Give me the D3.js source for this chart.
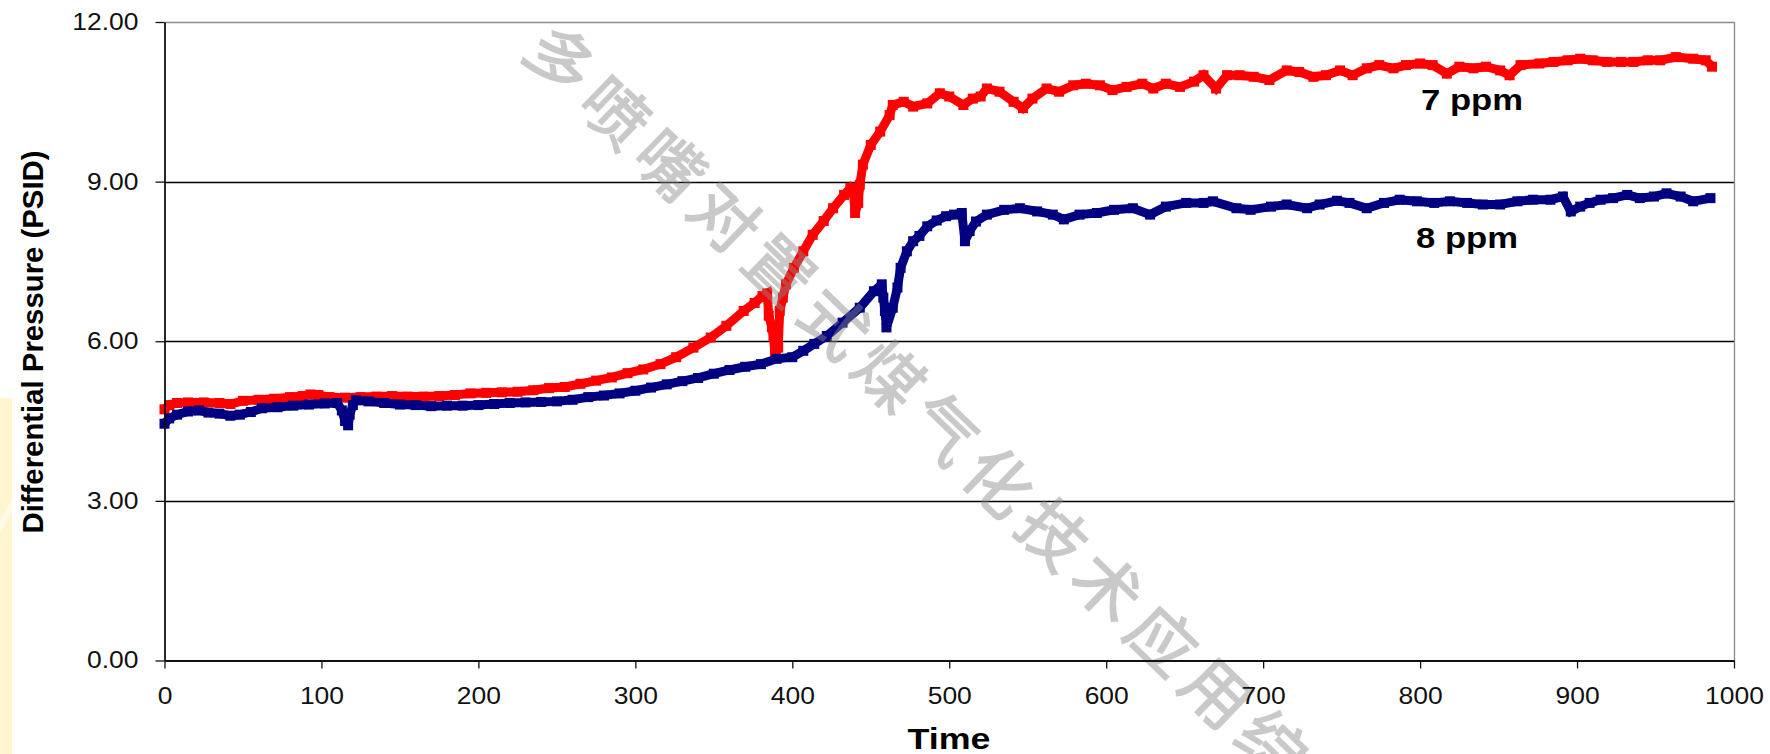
<!DOCTYPE html>
<html><head><meta charset="utf-8">
<script src="https://cdn.jsdelivr.net/npm/d3@7"></script>
<style>html,body{margin:0;padding:0;background:#fff;overflow:hidden}</style>
</head><body><svg id="c" width="1770" height="754"></svg>
<script>
// ---------- data ----------
const xTickValues = [0,100,200,300,400,500,600,700,800,900,1000];
const yTickValues = [0,3,6,9,12];
const seriesLabels = ["7 ppm","8 ppm"];
const xTitle = "Time";
const yTitle = "Differential Pressure (PSID)";
const watermarkText = "多喷嘴对置式煤气化技术应用综";

// 7 ppm series: [time, differential pressure]
const series7ppm = [
[0,4.72],[3,4.80],[8,4.84],[15,4.85],[25,4.85],[35,4.84],[42,4.82],[50,4.88],[60,4.90],[70,4.92],
[80,4.95],[88,4.97],[93,5.00],[98,4.99],[105,4.95],[115,4.94],[125,4.95],[135,4.96],[145,4.97],[155,4.96],
[165,4.96],[175,4.97],[185,4.99],[195,5.02],[205,5.03],[215,5.04],[225,5.05],[235,5.08],[245,5.12],[255,5.14],
[265,5.20],[275,5.26],[285,5.32],[295,5.40],[305,5.47],[316,5.57],[326,5.70],[337,5.88],[348,6.07],[358,6.29],
[369,6.57],[376,6.72],[381,6.85],[384,6.90],[385,6.48],[387,6.26],[388,6.10],[389,5.73],[391,5.88],[392,6.57],
[394,6.82],[396,7.07],[401,7.38],[407,7.69],[413,8.00],[420,8.26],[426,8.50],[433,8.75],[437,8.88],[439,8.80],
[440,8.41],[442,8.60],[443,8.94],[445,9.32],[450,9.69],[456,9.94],[462,10.25],[464,10.44],[471,10.50],[477,10.41],
[486,10.47],[494,10.66],[500,10.60],[509,10.44],[515,10.56],[520,10.60],[524,10.75],[532,10.69],[541,10.50],[547,10.38],
[553,10.56],[562,10.75],[570,10.69],[579,10.81],[587,10.84],[596,10.81],[604,10.72],[613,10.78],[623,10.84],[630,10.75],
[638,10.84],[647,10.78],[656,10.88],[662,11.00],[670,10.75],[677,11.00],[685,11.00],[694,10.97],[704,10.91],[715,11.09],
[723,11.06],[732,10.97],[740,11.00],[749,11.09],[757,11.00],[766,11.13],[774,11.19],[783,11.13],[791,11.19],[800,11.22],
[808,11.19],[817,11.03],[825,11.16],[834,11.13],[842,11.16],[851,11.09],[857,11.00],[864,11.19],[876,11.22],[885,11.25],
[894,11.28],[902,11.31],[910,11.28],[919,11.25],[928,11.25],[936,11.25],[945,11.28],[953,11.28],[963,11.34],[974,11.31],
[982,11.28],[986,11.16]
];

// 8 ppm series: [time, differential pressure]
const series8ppm = [
[0,4.45],[3,4.55],[8,4.62],[15,4.68],[22,4.70],[28,4.66],[35,4.64],[42,4.60],[48,4.62],[55,4.67],
[62,4.74],[72,4.76],[82,4.79],[92,4.81],[102,4.83],[110,4.84],[113,4.70],[115,4.50],[117,4.42],[118,4.62],
[120,4.80],[122,4.89],[130,4.87],[140,4.84],[150,4.81],[160,4.80],[170,4.78],[180,4.79],[190,4.79],[200,4.80],
[210,4.82],[220,4.84],[230,4.85],[240,4.86],[250,4.87],[260,4.90],[270,4.95],[280,4.98],[290,5.02],[300,5.07],
[310,5.13],[320,5.19],[330,5.25],[340,5.31],[350,5.39],[360,5.46],[370,5.52],[380,5.57],[390,5.67],[400,5.70],
[407,5.82],[414,5.95],[422,6.10],[432,6.35],[443,6.63],[452,6.94],[457,7.07],[458,6.82],[459,6.57],[460,6.26],
[464,6.63],[467,7.01],[469,7.38],[473,7.69],[477,7.88],[481,7.98],[486,8.16],[492,8.27],[498,8.35],[503,8.38],
[508,8.41],[510,7.88],[513,8.07],[517,8.25],[524,8.38],[535,8.47],[545,8.50],[556,8.44],[566,8.38],[573,8.29],
[583,8.38],[594,8.41],[605,8.47],[617,8.50],[628,8.38],[638,8.53],[651,8.60],[662,8.60],[668,8.63],[683,8.50],
[692,8.47],[705,8.53],[715,8.57],[728,8.50],[736,8.57],[747,8.64],[755,8.60],[766,8.50],[777,8.60],[787,8.66],
[798,8.63],[809,8.60],[819,8.63],[830,8.60],[840,8.57],[851,8.57],[862,8.63],[872,8.66],[883,8.66],[891,8.72],
[896,8.44],[902,8.53],[908,8.60],[915,8.66],[923,8.69],[932,8.75],[940,8.69],[949,8.72],[957,8.78],[966,8.72],
[974,8.63],[985,8.69]
];

// ---------- drawing ----------
const svg = d3.select("#c");
const x = d3.scaleLinear().domain([0,1000]).range([164.5,1734]);
const y = d3.scaleLinear().domain([0,12]).range([660.5,22]);
const FONT = "'Liberation Sans', Arial, sans-serif";

// slide background hint at far left
svg.append("rect").attr("x",0).attr("y",398).attr("width",12).attr("height",356).attr("fill","#fff5cf");
svg.append("polygon").attr("points","0,520 12,500 12,512 0,532").attr("fill","#fffbe8");

// grid lines
svg.append("g").selectAll("line").data(yTickValues.filter(d=>d>0 && d<12)).join("line")
  .attr("x1",x(0)).attr("x2",x(1000)).attr("y1",d=>Math.round(y(d))+0.5).attr("y2",d=>Math.round(y(d))+0.5)
  .attr("stroke","#000").attr("stroke-width",1.3);
// top & right frame
svg.append("line").attr("x1",x(0)).attr("x2",x(1000)).attr("y1",Math.round(y(12))+0.5).attr("y2",Math.round(y(12))+0.5)
  .attr("stroke","#8a8a8a").attr("stroke-width",1.3);
svg.append("line").attr("x1",Math.round(x(1000))+0.5).attr("x2",Math.round(x(1000))+0.5).attr("y1",y(12)).attr("y2",y(0))
  .attr("stroke","#8a8a8a").attr("stroke-width",1.3);

// series
const line = d3.line().x(d=>x(d[0])).y(d=>y(d[1]));
function drawSeries(data, color){
  const g = svg.append("g");
  g.append("path").datum(data).attr("d",line).attr("fill","none")
    .attr("stroke",color).attr("stroke-width",9).attr("stroke-linejoin","miter").attr("stroke-miterlimit",2);
  const s = 10;
  g.selectAll("rect").data(data).join("rect")
    .attr("x",d=>x(d[0])-s/2).attr("y",d=>y(d[1])-s/2).attr("width",s).attr("height",s).attr("fill",color);
}
drawSeries(series7ppm,"#ff0000");
drawSeries(series8ppm,"#000080");

// watermark
const wm = svg.append("g").attr("transform","translate(564,56) rotate(44)").attr("opacity",0.45);
wm.selectAll("text").data(Array.from(watermarkText)).join("text")
  .attr("x",(d,i)=>i*76).attr("y",0)
  .attr("text-anchor","middle").attr("dominant-baseline","central")
  .attr("font-family","'Noto Sans CJK SC', sans-serif").attr("font-size",66)
  .attr("fill","#8a8a8a").attr("stroke","#8a8a8a").attr("stroke-width",1.6).text(d=>d);

// stretch helper (reference image is horizontally stretched)
function stretch(sel, f){
  sel.each(function(){ const w=this.getComputedTextLength(); d3.select(this).attr("textLength",w*f).attr("lengthAdjust","spacingAndGlyphs"); });
}

// axes
const yAxis = svg.append("g").attr("transform",`translate(${x(0)},0)`)
  .call(d3.axisLeft(y).tickValues(yTickValues).tickSize(9).tickSizeOuter(0).tickPadding(17).tickFormat(d3.format(".2f")));
const xAxis = svg.append("g").attr("transform",`translate(0,${y(0)})`)
  .call(d3.axisBottom(x).tickValues(xTickValues).tickSize(8).tickSizeOuter(0).tickPadding(19).tickFormat(d3.format("d")));
[yAxis,xAxis].forEach(a=>{
  a.select(".domain").attr("stroke","#111").attr("stroke-width",1.8);
  a.selectAll(".tick line").attr("stroke","#111").attr("stroke-width",1.3);
  a.selectAll(".tick text").attr("font-family",FONT).attr("font-size",23).attr("fill","#111");
});
stretch(yAxis.selectAll(".tick text"),1.15);
stretch(xAxis.selectAll(".tick text"),1.15);

// titles
svg.append("text").attr("x",949).attr("y",749).attr("text-anchor","middle")
  .attr("font-family",FONT).attr("font-weight","bold").attr("font-size",29)
  .attr("textLength",83).attr("lengthAdjust","spacingAndGlyphs").text(xTitle);
svg.append("text").attr("transform","translate(43,342) rotate(-90)").attr("text-anchor","middle")
  .attr("font-family",FONT).attr("font-weight","bold").attr("font-size",30)
  .attr("textLength",383).attr("lengthAdjust","spacingAndGlyphs").text(yTitle);

// series labels
svg.append("text").attr("x",1421).attr("y",110)
  .attr("font-family",FONT).attr("font-weight","bold").attr("font-size",29)
  .attr("textLength",102).attr("lengthAdjust","spacingAndGlyphs").text(seriesLabels[0]);
svg.append("text").attr("x",1416).attr("y",248)
  .attr("font-family",FONT).attr("font-weight","bold").attr("font-size",29)
  .attr("textLength",102).attr("lengthAdjust","spacingAndGlyphs").text(seriesLabels[1]);
</script>
</body></html>
